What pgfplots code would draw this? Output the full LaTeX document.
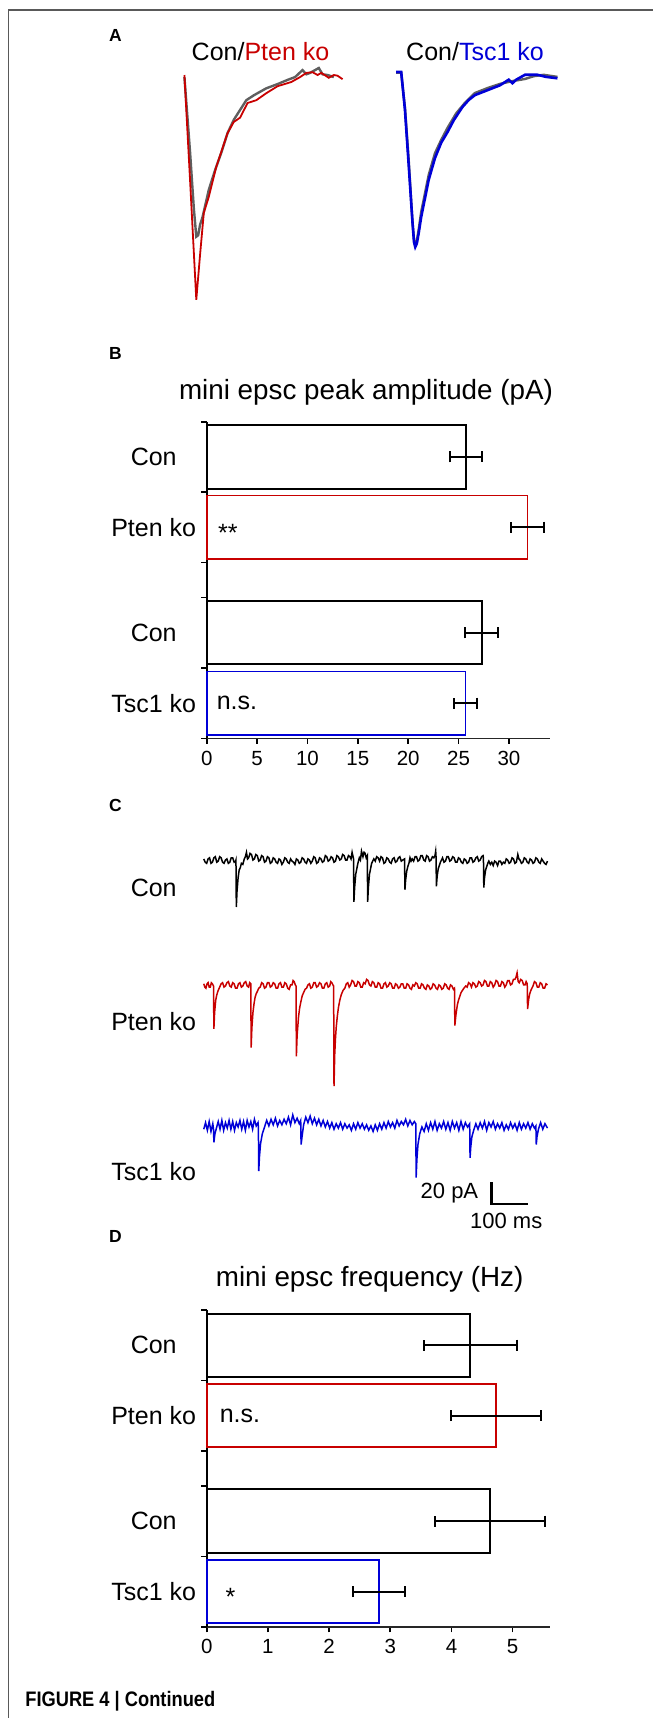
\documentclass[border=0pt]{standalone}
\usepackage{fontspec}
\setmainfont{Liberation Sans}
\usepackage{graphicx}
\usepackage{pgfplots}
\pgfplotsset{compat=1.18}

\definecolor{cred}{RGB}{200,0,0}
\definecolor{cblue}{RGB}{0,0,215}
\definecolor{cgray}{RGB}{95,95,95}

\pgfplotsset{
  trace/.style={hide axis, scale only axis, clip=false, anchor=south west},
  barpanel/.style={
    scale only axis, anchor=south west, width=171.65pt, clip=false,
    axis x line*=bottom, axis y line*=left, axis line style={-},
    x axis line style={line width=0.8pt, black!85},
    y axis line style={line width=1.15pt, black},
    ymin=0, ymax=4.5, ytick={0,1,2,2.5,3.5,4.5}, yticklabels={},
    tick align=outside, major tick length=2.8pt,
    tick style={black, line width=0.8pt},
    ticklabel style={font=\fontsize{10.25}{12}\selectfont},
    /pgf/number format/assume math mode=true,
  },
  hbar/.style={xbar, bar width=0.9, bar shift=0pt, fill=white,
    /pgfplots/error bars/x dir=both, /pgfplots/error bars/x explicit,
    /pgfplots/error bars/error mark=|,
    /pgfplots/error bars/error bar style={black, line width=1pt},
    /pgfplots/error bars/error mark options={black, line width=1pt, mark size=2.75pt}},
}
\newcommand{\lab}{\fontsize{12.5}{15}\selectfont}
\newcommand{\ttl}{\fontsize{13.9}{16}\selectfont}
\newcommand{\pan}{\fontsize{8.75}{10}\selectfont\bfseries}

\begin{document}
\begin{tikzpicture}
\useasboundingbox (0,0) rectangle (326.5pt,-859pt);
\draw[line width=0.7pt, black!65] (4.15pt,-859pt) -- (4.15pt,-5pt) -- (326.5pt,-5pt);

% ---------- A ----------
\node[anchor=base west, inner sep=0] at (54.4pt,-20.85pt) {\pan A};
\node[anchor=base, inner sep=0] at (130.25pt,-30.35pt) {\lab Con/\textcolor{cred}{Pten ko}};
\node[anchor=base, inner sep=0] at (237.5pt,-30.35pt) {\lab Con/\textcolor{cblue}{Tsc1 ko}};

\begin{axis}[trace, at={(91.9pt,-153pt)}, width=81.25pt, height=119pt,
  xmin=0, xmax=26, ymin=-33, ymax=1]
\addplot[cgray, line width=1.2pt] coordinates {
(0.1,-0.3)(1.0,-11)(1.6,-19)(2.0,-23.1)(2.3,-22.9)(2.6,-21.4)(3.0,-20.3)(4.0,-16.4)
(5.0,-13.6)(6.0,-11.1)(7.0,-8.3)(8.0,-6.4)(9.0,-5.0)(10.0,-3.6)(11.2,-2.9)(13.2,-1.9)
(15,-1.3)(16.6,-0.7)(17.8,-0.3)(19,0.7)(19.6,0.1)(20.2,0.3)(21.6,1.0)(22.2,0.1)(23,0)(24,-0.3)};
\addplot[cred, line width=0.9pt] coordinates {
(0.1,0)(1.0,-15)(2.0,-32.1)(2.6,-25.7)(3.2,-19.7)(4.0,-17.4)(5.2,-13.1)(7.0,-8.3)
(8.0,-6.7)(9.0,-6.1)(10.2,-4.0)(11.6,-3.6)(13.2,-2.6)(15.0,-1.6)(17.2,-1.0)(18.6,-0.3)
(19.6,0.3)(20.6,0.4)(21.4,0)(22,0.3)(23.2,-0.4)(24,0)(24.6,-0.1)(25.4,-0.6)};
\end{axis}

\begin{axis}[trace, at={(198.1pt,-127pt)}, width=81.25pt, height=94.5pt,
  xmin=0, xmax=26, ymin=-26, ymax=1]
\addplot[cgray, line width=1.2pt] coordinates {
(0,-0.1)(0.8,-0.1)(1.4,-5.1)(2,-12.6)(2.6,-21.4)(2.85,-24)(3.05,-24.7)(3.3,-24.1)(3.6,-22.5)(4.0,-20)
(5.2,-14.7)(6.2,-11.6)(7.2,-9.7)(8.2,-8.0)(9.6,-5.9)(11,-4.4)(12.6,-3.0)(14.6,-2.3)
(16.6,-1.7)(18.6,-1.3)(20.6,-1.0)(22,-0.6)(23.6,-0.4)(25.8,-0.7)};
\addplot[cblue, line width=1.3pt] coordinates {
(0,0)(0.8,0)(1.4,-5.4)(2.0,-13.3)(2.6,-21.4)(2.85,-24.3)(3.05,-25)(3.3,-24.5)(3.6,-23)(4.0,-20.7)(5.2,-15.4)
(6.2,-12.3)(7.2,-10.1)(8.2,-8.6)(9.2,-6.9)(10.6,-5.0)(11.6,-4.0)(12.6,-3.3)(14.6,-2.6)
(16.6,-1.9)(18,-1.1)(18.6,-1.6)(19.2,-1.1)(20.6,-0.4)(22.6,-0.4)(24,-0.7)(25.8,-0.9)};
\end{axis}

% ---------- B ----------
\node[anchor=base west, inner sep=0] at (54.4pt,-179.5pt) {\pan B};
\node[anchor=base, inner sep=0] at (183pt,-199.5pt) {\ttl mini epsc peak amplitude (pA)};

\begin{axis}[barpanel, at={(103.35pt,-369.15pt)}, height=158.3pt,
  xmin=0, xmax=34.07, xtick={0,5,...,30}]
\addplot[hbar, draw=black, line width=1pt] coordinates {(25.75,4) +- (1.62,0)};
\addplot[hbar, draw=cred, line width=0.8pt] coordinates {(31.85,3) +- (1.64,0)};
\addplot[hbar, draw=black, line width=1pt] coordinates {(27.28,1.5) +- (1.62,0)};
\addplot[hbar, draw=cblue, line width=0.8pt] coordinates {(25.69,0.5) +- (1.16,0)};
\node at ([xshift=-26.5pt]axis cs:0,4) {\lab Con};
\node at ([xshift=-26.5pt]axis cs:0,3) {\lab Pten ko};
\node at ([xshift=-26.5pt]axis cs:0,1.5) {\lab Con};
\node at ([xshift=-26.5pt]axis cs:0,0.5) {\lab Tsc1 ko};
\node[yshift=-2.75pt] at (axis cs:2.1,3) {\lab **};
\node at (axis cs:3.0,0.5) {\lab n.s.};
\end{axis}

% ---------- C ----------
\node[anchor=base west, inner sep=0] at (54.4pt,-405.85pt) {\pan C};
\node at (76.85pt,-443.85pt) {\lab Con};
\node at (76.85pt,-510.85pt) {\lab Pten ko};
\node at (76.85pt,-585.85pt) {\lab Tsc1 ko};

\begin{axis}[trace, at={(101.875pt,-454.75pt)}, width=171.875pt, height=30.25pt,
  xmin=0, xmax=950, ymin=-45, ymax=10]
\addplot[black, line width=0.75pt] coordinates {
(0,1)(4,-2)(8,-3)(12,1)(16,2)(20,-3)(24,-2)(28,2)(32,3)(36,-2)(40,-1)(44,3)(48,2)(52,-2)
(56,-3)(60,0)(64,1)(68,-3)(72,-2)(76,2)(80,2)(84,-2)(88,-1)
(89,0)(90,-42.7)(92,-28)(95,-16)(98,-9)(101,-7)(104,-3)(108,-4)(112,1)(115,3)(118,7)
(121,1)(124,2)(128,6)(132,5)(136,0)(140,1)(144,5)(148,4)(152,-1)(156,0)(160,4)(164,3)
(168,-2)(172,-1)(176,3)(180,2)(184,-3)(188,-2)(192,2)(196,1)(200,-2)(204,-3)(208,1)
(212,0)(216,-4)(220,-2)(224,2)(228,1)(232,-2)(236,-3)(240,1)(244,-1)(248,-2)(252,-4)
(256,1)(260,0)(264,-3)(268,-2)(272,2)(276,1)(280,-2)(284,-3)(288,1)(292,0)(296,-3)
(300,-1)(304,3)(308,2)(312,-3)(316,-2)(320,2)(324,1)(328,-2)(332,-1)(336,4)(340,3)
(344,-1)(348,0)(352,3)(356,2)(360,-2)(364,-1)(368,4)(372,3)(376,0)(380,1)(384,5)(388,4)
(392,0)(396,0)(400,4)(404,3)(407,1)(410,7)
(414,1)(415,-38)(417,-25)(420,-13)(423,-8)(426,-3)(430,2)(433,0)(436,8)(440,3)(443,7)
(446,6)(449,2)
(452,4)(453,-38)(455,-25)(458,-13)(461,-8)(464,-3)(467,-1)(470,1)(474,-1)(478,3)(482,2)
(486,-1)(490,3)(494,2)(498,-3)(502,-2)(506,2)(510,1)(514,-2)(518,-3)(522,1)(526,2)
(530,-2)(534,-1)(538,2)(542,3)(546,-1)(550,0)
(555,1)(556,-27)(558,-18)(561,-10)(564,-6)(567,-3)(570,2)(573,-1)(576,1)(580,-1)(584,3)
(588,3)(592,-1)(596,0)(600,4)(604,4)(608,0)(612,-1)(616,4)(620,3)(624,-1)(628,0)(632,3)
(636,2)(639,4)(641,8)
(642,3)(643,-24)(645,-15)(648,-8)(651,-5)(654,-2)(657,0)(660,2)(664,-2)(668,-1)(672,3)
(676,3)(680,-1)(684,0)(688,3)(692,2)(696,-2)(700,-2)(704,2)(708,1)(712,-2)(716,-3)
(720,1)(724,0)(728,-3)(732,-2)(736,2)(740,2)(744,-2)(748,-1)(752,2)(756,3)(760,-1)
(764,0)(768,3)(772,4)
(773,2)(774,-25)(776,-16)(779,-9)(782,-6)(785,-3)(788,-1)(792,-4)(796,-2)(800,-5)
(804,-1)(808,-2)(812,-5)(816,-1)(820,-1)(824,-4)(828,-2)(832,-3)(836,1)(840,0)(844,-3)
(848,-2)(852,2)(856,1)(860,-3)(864,-2)(868,5)(871,1)(874,0)(878,-3)(882,-2)(886,2)
(890,1)(894,-2)(898,-3)(902,1)(906,0)(910,-3)(914,-2)(918,2)(922,1)(926,-2)(930,-3)
(934,1)(938,-1)(942,-3)(946,-4)(950,-1)};
\end{axis}

\begin{axis}[trace, at={(101.875pt,-545.25pt)}, width=171.875pt, height=57.75pt,
  xmin=0, xmax=950, ymin=-95, ymax=10]
\addplot[cred, line width=0.75pt] coordinates {
(0,2)(3,-1)(6,-2)(9,2)(12,3)(15,-1)(18,-1)(21,3)(24,2)(27,0)(28,-39)(30,-24)(33,-13)
(36,-8)(40,-4)(44,-1)(48,2)(52,3)(56,-1)(60,0)(64,3)(68,4)(72,0)(76,-1)(80,3)(84,2)
(88,-2)(92,-2)(96,2)(100,3)(104,-1)(108,0)(112,3)(116,4)(120,0)(124,-1)(127,3)(130,2)
(131,-56)(133,-38)(136,-24)(139,-16)(142,-10)(145,-7)(148,-5)(152,-2)(156,-1)(160,3)
(164,2)(168,-2)(172,-1)(176,3)(180,3)(184,-1)(188,0)(192,3)(196,2)(200,-2)(204,-2)
(208,2)(212,3)(216,-1)(220,-1)(224,3)(228,2)(232,-2)(236,-3)(240,1)(244,1)(247,5)
(250,4)(253,1)(255,0)(256,-64)(258,-45)(262,-28)(265,-20)(268,-15)(272,-9)(276,-6)
(280,-3)(284,-2)(288,1)(292,2)(296,-2)(300,-1)(304,3)(308,3)(312,-1)(316,0)(320,3)
(324,2)(328,-2)(332,-2)(336,2)(340,3)(344,-1)(348,0)(351,4)(354,3)(357,1)(359,0)
(360,-91)(362,-62)(364,-48)(366,-38)(369,-28)(372,-20)(376,-13)(380,-8)(385,-4)(390,-2)
(394,2)(398,3)(402,-1)(406,1)(410,5)(414,4)(418,0)(422,0)(426,4)(430,3)(434,-1)(438,-1)
(442,3)(446,2)(450,6)(454,5)(458,1)(462,0)(466,4)(470,3)(474,-1)(478,-1)(482,3)(486,2)
(490,-2)(494,-2)(498,2)(502,3)(506,-1)(510,0)(514,3)(518,2)(522,-2)(526,-2)(530,2)
(534,1)(538,-2)(542,-1)(546,2)(550,2)(554,-2)(558,-2)(562,2)(566,1)(570,-2)(574,-3)
(578,1)(582,0)(586,3)(590,2)(594,-2)(598,-2)(602,2)(606,1)(610,-2)(614,-3)(618,1)
(622,0)(626,-3)(630,-2)(634,2)(638,1)(642,-2)(646,-3)(650,1)(654,0)(658,-3)(662,-2)
(666,2)(670,1)(674,-2)(678,-3)(682,1)(686,0)(690,-3)(693,-2)(694,-36)(697,-26)(701,-17)
(704,-13)(707,-10)(711,-6)(715,-4)(719,-2)(724,0)(728,-1)(732,3)(736,2)(740,-1)(744,3)
(748,2)(752,-1)(756,0)(760,4)(764,3)(768,0)(772,1)(776,5)(780,4)(784,0)(788,0)(792,4)
(796,3)(800,-1)(804,1)(808,5)(812,4)(816,0)(820,0)(824,4)(828,3)(832,-1)(836,1)(840,5)
(844,5)(848,1)(852,2)(856,6)(860,6)(863,8)(866,12)(869,4)(872,3)(876,6)(880,5)(884,1)
(888,1)(891,4)(894,2)(895,-21)(898,-12)(901,-7)(904,-4)(907,-2)(910,0)(914,4)(918,3)
(922,-1)(926,-1)(930,3)(934,2)(938,-2)(942,-2)(946,2)(950,1)};
\end{axis}

\begin{axis}[trace, at={(101.875pt,-604.75pt)}, width=171.875pt, height=46.75pt,
  xmin=0, xmax=950, ymin=-75, ymax=10]
\addplot[cblue, line width=0.75pt] coordinates {
(0,-2)(5,4)(10,-3)(15,5)(20,-4)(25,3)(27,-2)(28,-14)(31,-6)(35,-1)(40,5)(45,-2)(50,6)
(55,-3)(60,4)(65,-1)(70,6)(75,-2)(80,5)(85,-3)(90,4)(95,0)(100,6)(105,-2)(110,5)
(115,-3)(120,6)(125,0)(130,5)(135,-2)(140,7)(145,1)(150,4)(151,0)(152,-40)(154,-27)
(157,-15)(162,-6)(168,0)(174,6)(180,1)(186,7)(192,2)(198,8)(204,1)(210,6)(216,2)
(222,7)(228,3)(234,9)(240,2)(246,11)(252,4)(258,8)(264,3)(268,6)(269,-16)(272,-8)
(276,2)(282,9)(288,4)(294,10)(300,3)(306,8)(312,2)(318,7)(324,1)(330,6)(336,0)(342,5)
(348,-1)(354,4)(360,-2)(366,3)(372,-1)(378,4)(384,-2)(390,3)(396,-1)(402,2)(408,-3)
(414,3)(420,-2)(426,4)(432,-1)(438,3)(444,-2)(450,2)(456,-3)(462,1)(468,-4)(474,2)
(480,-3)(486,3)(492,-2)(498,4)(504,-1)(510,5)(516,0)(522,4)(528,-1)(534,6)(540,1)
(546,5)(552,2)(558,7)(564,1)(570,6)(576,2)(582,5)(586,3)(587,-46)(589,-30)(592,-16)
(597,-6)(603,0)(609,-4)(615,3)(621,-3)(627,4)(633,-2)(639,5)(645,-3)(651,3)(657,-1)
(663,5)(669,-2)(675,4)(681,-3)(687,5)(693,-1)(699,4)(705,-3)(711,5)(717,-2)(723,4)
(729,0)(735,3)(736,-28)(738,-18)(741,-9)(746,-3)(752,3)(758,-2)(764,4)(770,-1)(776,5)
(782,-3)(788,4)(794,0)(800,5)(806,-2)(812,3)(818,-1)(824,4)(830,-3)(836,2)(842,-2)
(848,4)(854,-1)(860,3)(866,-3)(872,4)(878,-2)(884,3)(890,-1)(896,4)(902,-2)(908,3)
(914,-1)(918,1)(919,-16)(921,-9)(925,-2)(931,4)(937,-2)(943,3)(950,-1)};
% scale bar
\addplot[black, line width=1.1pt] coordinates {(795,-50)(795,-70)(895,-70)};
\node[anchor=east] at (axis cs:778,-60) {\fontsize{11}{13}\selectfont 20 pA};
\node at (axis cs:836,-85.5) {\fontsize{11}{13}\selectfont 100 ms};
\end{axis}

% ---------- D ----------
\node[anchor=base west, inner sep=0] at (54.4pt,-621pt) {\pan D};
\node[anchor=base, inner sep=0] at (184.8pt,-643.3pt) {\ttl mini epsc frequency (Hz)};

\begin{axis}[barpanel, at={(103.35pt,-813.35pt)}, height=158.35pt,
  xmin=0, xmax=5.61, xtick={0,1,...,5}]
\addplot[hbar, draw=black, line width=1pt] coordinates {(4.31,4) +- (0.76,0)};
\addplot[hbar, draw=cred, line width=0.8pt] coordinates {(4.73,3) +- (0.74,0)};
\addplot[hbar, draw=black, line width=1pt] coordinates {(4.63,1.5) +- (0.9,0)};
\addplot[hbar, draw=cblue, line width=0.8pt] coordinates {(2.815,0.5) +- (0.43,0)};
\node at ([xshift=-26.5pt]axis cs:0,4) {\lab Con};
\node at ([xshift=-26.5pt]axis cs:0,3) {\lab Pten ko};
\node at ([xshift=-26.5pt]axis cs:0,1.5) {\lab Con};
\node at ([xshift=-26.5pt]axis cs:0,0.5) {\lab Tsc1 ko};
\node at (axis cs:0.544,3) {\lab n.s.};
\node[yshift=-2.75pt] at (axis cs:0.39,0.5) {\lab *};
\end{axis}

\node[anchor=base west, inner sep=0] at (12.5pt,-853.3pt)
  {\fontsize{10.5}{12}\selectfont\bfseries\scalebox{0.87}[1]{FIGURE 4 | Continued}};
\end{tikzpicture}
\end{document}
